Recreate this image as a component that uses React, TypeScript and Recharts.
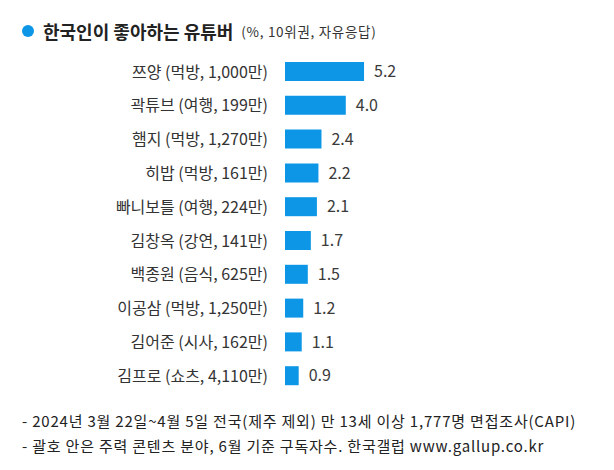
import { Bar, BarChart, LabelList, XAxis, YAxis } from "recharts";

const BLUE = "#0d96e6";
const TEXT = "#333333";
const FONT = "'Noto Sans CJK KR', 'Noto Sans', sans-serif";

// 한국인이 좋아하는 유튜버 (%, 10위권, 자유응답)
const names = [
  "쯔양 (먹방, 1,000만)",
  "곽튜브 (여행, 199만)",
  "햄지 (먹방, 1,270만)",
  "히밥 (먹방, 161만)",
  "빠니보틀 (여행, 224만)",
  "김창옥 (강연, 141만)",
  "백종원 (음식, 625만)",
  "이공삼 (먹방, 1,250만)",
  "김어준 (시사, 162만)",
  "김프로 (쇼츠, 4,110만)",
];
const shares = [5.2, 4.0, 2.4, 2.2, 2.1, 1.7, 1.5, 1.2, 1.1, 0.9];

const footnotes = [
  "- 2024년 3월 22일~4월 5일 전국(제주 제외) 만 13세 이상 1,777명 면접조사(CAPI)",
  "- 괄호 안은 주력 콘텐츠 분야, 6월 기준 구독자수. 한국갤럽 www.gallup.co.kr",
];

const data = names.map((name, i) => ({ name, value: shares[i] }));

export default function App() {
  return (
    <div
      style={{
        position: "absolute",
        left: 0,
        top: 0,
        width: 614,
        height: 470,
        background: "#fff",
        fontFamily: FONT,
        color: TEXT,
        overflow: "hidden",
      }}
    >
      {/* title */}
      <div style={{ position: "absolute", left: 22, top: 18, display: "flex", alignItems: "center", whiteSpace: "nowrap" }}>
        <span style={{ width: 12, height: 12, borderRadius: 6, background: BLUE, display: "inline-block", marginRight: 9 }} />
        <span style={{ fontSize: 18, fontWeight: 700, color: "#222" }}>한국인이 좋아하는 유튜버</span>
        <span style={{ fontSize: 13.5, marginLeft: 8, color: "#333", letterSpacing: 0.7 }}>(%, 10위권, 자유응답)</span>
      </div>

      <div style={{ position: "absolute", left: 0, top: 0 }}>
        <BarChart
          width={614}
          height={470}
          layout="vertical"
          data={data}
          margin={{ top: 55, right: 177, bottom: 77, left: 0 }}
          barCategoryGap={14}
        >
          <XAxis type="number" domain={[0, 10]} hide />
          <YAxis
            type="category"
            dataKey="name"
            width={285}
            axisLine={false}
            tickLine={false}
            tickSize={0}
            tickMargin={17}
            interval={0}
            tick={{ fontSize: 16, fill: TEXT, fontFamily: FONT }}
          />
          <Bar dataKey="value" fill={BLUE} barSize={19} isAnimationActive={false}>
            <LabelList
              dataKey="value"
              position="right"
              offset={10}
              formatter={(v: number) => v.toFixed(1)}
              style={{ fontSize: 16, fill: "#3a3a3a", fontFamily: FONT }}
            />
          </Bar>
        </BarChart>
      </div>

      {/* footnotes */}
      <div
        style={{
          position: "absolute",
          left: 22,
          top: 408,
          fontSize: 15,
          letterSpacing: 0.8,
          lineHeight: "25px",
          whiteSpace: "nowrap",
          color: "#222",
        }}
      >
        {footnotes.map((t) => (
          <div key={t}>{t}</div>
        ))}
      </div>
    </div>
  );
}
